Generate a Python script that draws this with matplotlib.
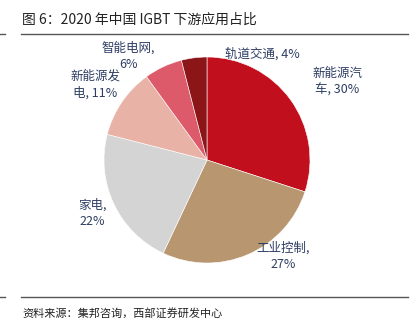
import matplotlib.pyplot as plt
from matplotlib.lines import Line2D

plt.rcParams['font.family'] = ['Noto Sans CJK SC', 'DejaVu Sans']

# data
categories = ['新能源汽车', '工业控制', '家电', '新能源发电', '智能电网', '轨道交通']
shares = [30, 27, 22, 11, 6, 4]
colors = ['#C20F1E', '#B8966F', '#D4D4D4', '#E8B3A6', '#DD5A6A', '#8C1518']
label_texts = ['新能源汽\n车, 30%', '工业控制,\n27%', '家电,\n22%',
               '新能源发\n电, 11%', '智能电网,\n6%', '轨道交通, 4%']

W, H = 413, 333
fig = plt.figure(figsize=(W / 100, H / 100), dpi=100)
ax = fig.add_axes([0, 0, 1, 1])

# pie in pixel-like coordinates (y measured from bottom)
cx, cy, r = 207, H - 160, 103
ax.pie(shares, colors=colors, startangle=90, counterclock=False,
       center=(cx, cy), radius=r,
       wedgeprops=dict(edgecolor='white', linewidth=0.4))
ax.set_xlim(0, W)
ax.set_ylim(0, H)
ax.set_aspect('equal')
ax.axis('off')

# label positions in pixels (x, y from top)
label_pos = [(337, 82), (283, 256), (92, 213), (95, 85), (128, 56), (262, 54)]
for txt, (x, y) in zip(label_texts, label_pos):
    ax.text(x, H - y, txt, ha='center', va='center', fontsize=9,
            color='#2E3E63', linespacing=1.35)

# title, rules and source
ax.text(22, H - 20, '图 6：2020 年中国 IGBT 下游应用占比', ha='left', va='center',
        fontsize=10, color='#222222')
ax.add_line(Line2D([21, 408], [H - 34, H - 34], color='#555555', linewidth=1))
ax.add_line(Line2D([0, 5], [H - 34, H - 34], color='#555555', linewidth=1))
ax.add_line(Line2D([21, 408], [H - 297, H - 297], color='#555555', linewidth=1))
ax.add_line(Line2D([0, 5], [H - 297, H - 297], color='#555555', linewidth=1))
ax.text(22, H - 313, '资料来源：集邦咨询，西部证券研发中心', ha='left', va='center',
        fontsize=8, color='#222222')

fig.savefig('out.png', dpi=100)
